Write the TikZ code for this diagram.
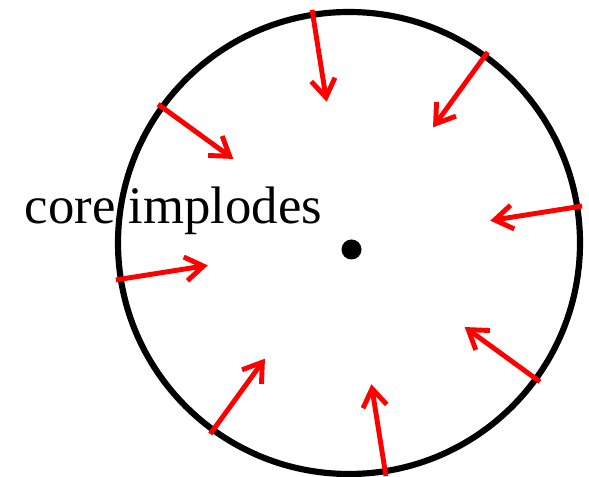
\documentclass[tikz,border=0pt]{standalone}
\usepackage{fontspec}
\setmainfont{Liberation Serif}
\usetikzlibrary{arrows.meta}

\begin{document}
\begin{tikzpicture}[scale=1]
\useasboundingbox (0,0) rectangle (11.78,9.54);
\coordinate (ctr) at (6.98,4.68);

\draw[line width=3.5pt] (ctr) circle (4.62);
\fill (7.03,4.55) circle (0.2);

\node[anchor=base,inner sep=0pt] (lbl) at (3.47,5.07) {\fontsize{30}{36}\selectfont core implodes};

\foreach \a in {9,54,...,324}
  \draw[red,line width=2.8pt,-{Straight Barb[length=3.6mm,width=4.8mm]}]
  ([shift={(\a:4.72)}]ctr) -- ([shift={(\a:2.86)}]ctr);
\end{tikzpicture}
\end{document}
